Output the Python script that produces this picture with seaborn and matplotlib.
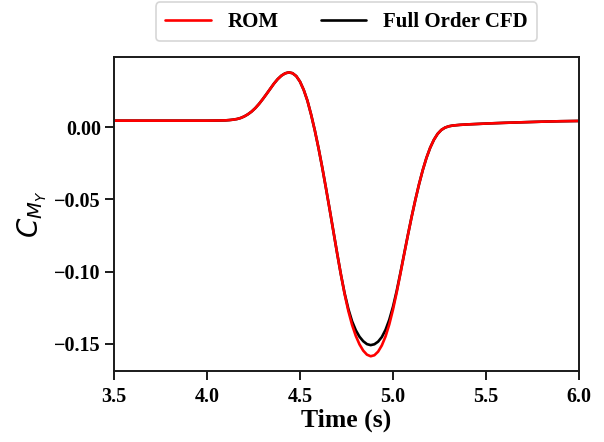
import numpy as np
import pandas as pd
import matplotlib
matplotlib.use("Agg")
import matplotlib.pyplot as plt
import seaborn as sns

# Pitching-moment coefficient history
time_s = [3.50, 3.70, 3.90, 4.00, 4.06, 4.10, 4.12, 4.14, 4.16, 4.18,
          4.20, 4.22, 4.24, 4.26, 4.28, 4.30, 4.32, 4.34, 4.36, 4.38,
          4.40, 4.42, 4.44, 4.46, 4.48, 4.50, 4.52, 4.54, 4.56, 4.58,
          4.60, 4.62, 4.64, 4.66, 4.68, 4.70, 4.72, 4.74, 4.76, 4.78,
          4.80, 4.82, 4.84, 4.86, 4.88, 4.90, 4.92, 4.94, 4.96, 4.98,
          5.00, 5.02, 5.04, 5.06, 5.08, 5.10, 5.12, 5.14, 5.16, 5.18,
          5.20, 5.22, 5.24, 5.26, 5.28, 5.30, 5.32, 5.36, 5.40, 5.50,
          5.60, 5.70, 5.80, 5.90, 6.00]

cmy_rom = [0.0044, 0.0044, 0.0044, 0.0044, 0.0045, 0.0046, 0.0048, 0.0051, 0.0055, 0.0062,
           0.0073, 0.0088, 0.0107, 0.0131, 0.0160, 0.0193, 0.0228, 0.0264, 0.0300, 0.0331,
           0.0355, 0.0371, 0.0378, 0.0372, 0.0352, 0.0314, 0.0257, 0.0182, 0.0085, -0.0025,
           -0.0148, -0.0282, -0.0425, -0.0573, -0.0724, -0.0875, -0.1020, -0.1155, -0.1272, -0.1368,
           -0.1444, -0.1503, -0.1546, -0.1574, -0.1585, -0.1578, -0.1553, -0.1510, -0.1448, -0.1365,
           -0.1262, -0.1143, -0.1013, -0.0880, -0.0749, -0.0623, -0.0505, -0.0396, -0.0298, -0.0213,
           -0.0143, -0.0088, -0.0047, -0.0020, -0.0004, 0.0005, 0.0010, 0.0015, 0.0018, 0.0024,
           0.0029, 0.0033, 0.0037, 0.0040, 0.0042]

cmy_cfd = [0.0044, 0.0044, 0.0044, 0.0044, 0.0045, 0.0046, 0.0048, 0.0051, 0.0055, 0.0062,
           0.0073, 0.0088, 0.0107, 0.0131, 0.0160, 0.0193, 0.0228, 0.0264, 0.0300, 0.0331,
           0.0355, 0.0371, 0.0378, 0.0372, 0.0352, 0.0314, 0.0257, 0.0182, 0.0085, -0.0025,
           -0.0148, -0.0282, -0.0425, -0.0573, -0.0724, -0.0875, -0.1020, -0.1150, -0.1258, -0.1343,
           -0.1405, -0.1450, -0.1481, -0.1501, -0.1508, -0.1502, -0.1484, -0.1452, -0.1402, -0.1333,
           -0.1243, -0.1133, -0.1008, -0.0877, -0.0747, -0.0622, -0.0505, -0.0396, -0.0298, -0.0213,
           -0.0143, -0.0088, -0.0047, -0.0020, -0.0004, 0.0005, 0.0010, 0.0015, 0.0018, 0.0024,
           0.0029, 0.0033, 0.0037, 0.0040, 0.0042]

series_names = ["ROM", "Full Order CFD"]
x_ticks = [3.5, 4.0, 4.5, 5.0, 5.5, 6.0]
y_ticks = [0.00, -0.05, -0.10, -0.15]

sns.set_style("ticks")
plt.rcParams["font.family"] = ["Liberation Serif", "DejaVu Serif"]
plt.rcParams["mathtext.fontset"] = "dejavusans"
plt.rcParams["text.color"] = "black"
plt.rcParams["axes.labelcolor"] = "black"
plt.rcParams["xtick.color"] = "black"
plt.rcParams["ytick.color"] = "black"

df = pd.concat([
    pd.DataFrame({"t": time_s, "cmy": cmy_cfd, "src": series_names[1]}),
    pd.DataFrame({"t": time_s, "cmy": cmy_rom, "src": series_names[0]}),
])

fig = plt.figure(figsize=(6.04, 4.42), dpi=100)
ax = fig.add_axes([0.1887, 0.1606, 0.7699, 0.7104])

# CFD first so the ROM curve sits on top
sns.lineplot(data=df, x="t", y="cmy", hue="src", sort=False,
             palette={series_names[0]: "#ff0000", series_names[1]: "#000000"},
             hue_order=[series_names[1], series_names[0]],
             linewidth=1.9, ax=ax, legend=False)
for ln in ax.get_lines():
    ln.set_solid_joinstyle("round")
    ln.set_solid_capstyle("round")

ax.set_xlim(3.5, 6.0)
ax.set_ylim(-0.1687, 0.0484)
ax.set_xticks(x_ticks)
ax.set_xticklabels([f"{v:.1f}" for v in x_ticks])
ax.set_yticks(y_ticks)
ax.set_yticklabels([f"{v:.2f}".replace("-", "\u2212") for v in y_ticks])

for lab in ax.get_xticklabels() + ax.get_yticklabels():
    lab.set_fontweight("bold")
    lab.set_fontsize(14.5)

ax.tick_params(axis="both", direction="out", length=6.5, width=1.4,
               color="#1a1a1a", labelcolor="black")
ax.tick_params(axis="x", pad=5)
ax.tick_params(axis="y", pad=3)
for sp in ax.spines.values():
    sp.set_linewidth(1.4)
    sp.set_color("#1a1a1a")
    sp.set_visible(True)

ax.set_xlabel("Time (s)", fontsize=18.5, fontweight="bold", labelpad=1)
ax.set_ylabel(r"$C_{M_Y}$", fontsize=20, labelpad=4, family="DejaVu Sans")

handles = [plt.Line2D([], [], color="#ff0000", lw=1.9),
           plt.Line2D([], [], color="#000000", lw=1.9)]
leg = ax.legend(handles, series_names, loc="center", bbox_to_anchor=(0.5, 1.112),
                ncol=2, frameon=True, fancybox=True, handlelength=2.2,
                columnspacing=2.0, borderpad=0.45,
                prop={"family": "Liberation Serif", "weight": "bold", "size": 15})
leg.get_frame().set_edgecolor("#cccccc")
leg.get_frame().set_linewidth(1.2)

fig.savefig("out.png", dpi=100)
